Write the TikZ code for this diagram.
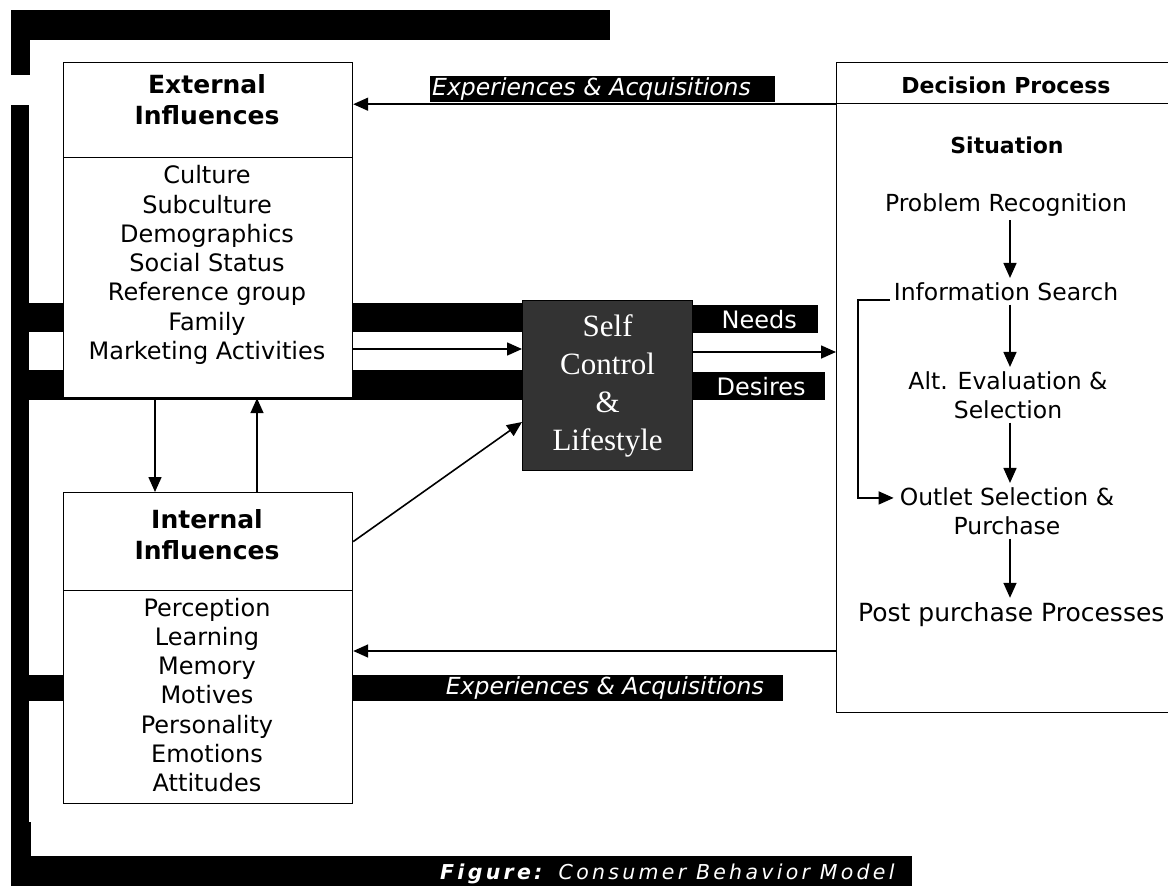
\documentclass[tikz,border=0pt]{standalone}
\usepackage{fontspec}
\setmainfont{DejaVu Sans}
\newfontfamily\selffont{Liberation Serif}
\newfontfamily\figfont[LetterSpace=16]{DejaVu Sans}
\usetikzlibrary{arrows.meta,calc}
\definecolor{selfgray}{RGB}{51,51,51}
\begin{document}
\begin{tikzpicture}[x=1pt,y=-1pt,
  box/.style={draw=black, line width=1.2pt, fill=white, inner sep=0pt, anchor=north west},
  arr/.style={-{Triangle[length=15pt,width=13pt]}, line width=1.6pt},
  item/.style={font=\fontsize{24}{29.3}\selectfont, align=center, inner sep=0pt},
  head/.style={font=\fontsize{25}{31}\selectfont\bfseries, align=center, inner sep=0pt},
  dtext/.style={font=\fontsize{23.5}{29}\selectfont, align=center, inner sep=4pt, anchor=base},
  lab/.style={fill=black, text=white, inner sep=0pt},
  frame/.style={fill=black}
]
\clip (0,0) rectangle (1168,886);
\fill[white] (0,0) rectangle (1168,886);
% black frame bars
\fill[frame] (11,10) rectangle (610,40);
\fill[frame] (11,10) rectangle (30,75);
\fill[frame] (11,105) rectangle (29,886);
\fill[frame] (11,822) rectangle (31,886);
\fill[frame] (11,303) rectangle (522,332);
\fill[frame] (11,370) rectangle (522,400);
\fill[frame] (11,675) rectangle (783,701);
\fill[frame] (11,856) rectangle (912,886);

% External influences
\node[box, minimum width=289pt, minimum height=95pt] (exth) at (63,62) {};
\node[box, minimum width=289pt, minimum height=240pt] (extb) at (63,157) {};
\node[head] (extt) at (207,100) {External\\Influences};
\node[item] (extl) at (207,265) {Culture\\Subculture\\Demographics\\Social Status\\Reference group\\Family\\Marketing Activities};

% Internal influences
\node[box, minimum width=289pt, minimum height=98pt] (inth) at (63,492) {};
\node[box, minimum width=289pt, minimum height=213pt] (intb) at (63,590) {};
\node[head] (intt) at (207,535) {Internal\\Influences};
\node[item] (intl) at (207,695) {Perception\\Learning\\Memory\\Motives\\Personality\\Emotions\\Attitudes};

% Self control
\node[box, fill=selfgray, minimum width=170pt, minimum height=170pt] (self) at (522,300) {};
\node[font=\fontsize{31}{38}\selectfont\selffont, text=white, align=center, inner sep=0pt] (selft) at (self.center) {Self\\Control\\\&\\Lifestyle};

% Needs / Desires labels
\node[lab, anchor=north west, minimum width=126pt, minimum height=28pt, font=\fontsize{24}{28}\selectfont] (needs) at (692,305) {\hspace*{8pt}Needs};
\node[lab, anchor=north west, minimum width=133pt, minimum height=28pt, font=\fontsize{24}{28}\selectfont] (desires) at (692,372) {\hspace*{5pt}Desires};

% Decision process
\node[box, minimum width=400pt, minimum height=650pt] (dec) at (836,62) {};
\node[box, minimum width=400pt, minimum height=41pt] (dech) at (836,62) {};
\node[font=\fontsize{22}{26}\selectfont\bfseries, anchor=base] (dect) at (1006,93) {Decision Process};
\node[font=\fontsize{22}{26}\selectfont\bfseries, anchor=base] (sit) at (1007,153) {Situation};
\node[dtext] (pr) at (1006,211) {Problem Recognition};
\node[dtext] (is) at (1006,300) {Information Search};
\node[dtext] (ae) at (1008,418) {Alt. Evaluation \&\\Selection};
\node[dtext] (os) at (1007,534) {Outlet Selection \&\\Purchase};
\node[dtext, anchor=base west, font=\fontsize{25}{29}\selectfont] (pp) at (854,621) {Post purchase Processes};

\coordinate (ax) at (1010,0);
\coordinate (loopx) at (858,0);
\draw[arr] (pr.south -| ax) -- (is.north -| ax);
\draw[arr] (is.south -| ax) -- (ae.north -| ax);
\draw[arr] (ae.south -| ax) -- (os.north -| ax);
\draw[arr] (os.south -| ax) -- (pp.north -| ax);
\coordinate (osin) at ($(os.north west)+(-2,15)$);
\draw[arr] (is.base west) -- (is.base west -| loopx) |- (osin);

% Experiences & Acquisitions (top)
\draw[arr] (dech.south west) -- (exth.east |- dech.south west);
\node[lab, anchor=south west, minimum height=26pt, text width=345pt, align=left, font=\fontsize{23.5}{26}\selectfont\itshape] (expt) at (430,102) {\hspace*{2pt}Experiences \& Acquisitions};

% Experiences & Acquisitions (bottom)
\coordinate (r4) at (0,651);
\draw[arr] (dec.west |- r4) -- (intb.east |- r4);
\node[lab, anchor=east, minimum height=26pt, font=\fontsize{23.5}{26}\selectfont\itshape] (expb) at (764,688) {Experiences \& Acquisitions};

% arrows between influences
\coordinate (dn) at (155,0);
\coordinate (up) at (257,0);
\draw[arr] (extb.south -| dn) -- (inth.north -| dn);
\draw[arr] (inth.north -| up) -- (extb.south -| up);

% to self control
\coordinate (r1) at (0,349);
\coordinate (r2) at (0,352);
\coordinate (r3) at (0,422);
\draw[arr] (extb.east |- r1) -- (self.west |- r1);
\draw[arr] (self.east |- r2) -- (dec.west |- r2);
\draw[arr] (inth.east) -- (self.west |- r3);

% caption
\node[anchor=base west, text=white, inner sep=0pt, font=\fontsize{20.5}{24}\selectfont\figfont] (cap) at (440,879) {\textbf{\textit{Figure:}} \textit{Consumer Behavior Model}};
\end{tikzpicture}
\end{document}
